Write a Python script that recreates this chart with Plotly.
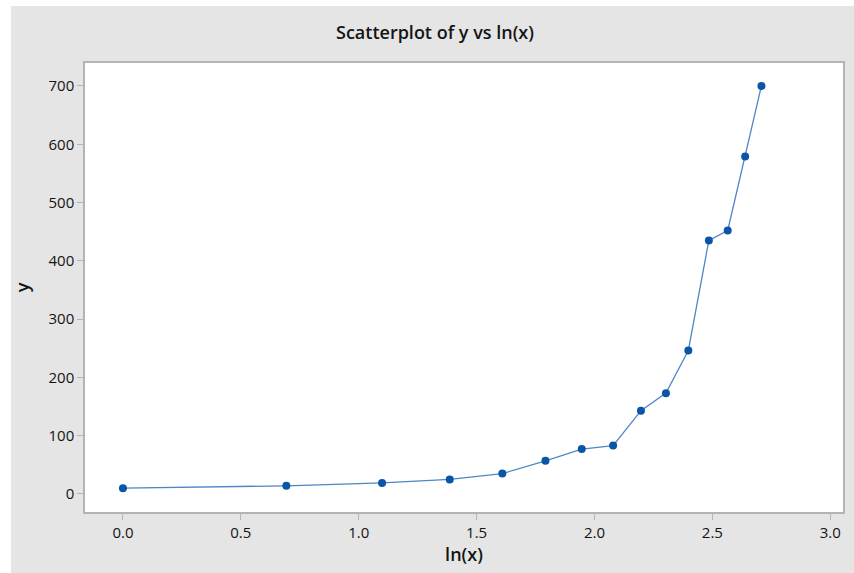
import plotly.graph_objects as go

# Data
ln_x = [0.000, 0.693, 1.099, 1.386, 1.609, 1.792, 1.946, 2.079, 2.197, 2.303,
        2.398, 2.485, 2.565, 2.639, 2.708]
y_vals = [10, 14, 19, 25, 35, 57, 77, 83, 143, 173, 246, 435, 452, 579, 700]

x_ticks = [0.0, 0.5, 1.0, 1.5, 2.0, 2.5, 3.0]
x_tick_text = ["0.0", "0.5", "1.0", "1.5", "2.0", "2.5", "3.0"]
y_ticks = [0, 100, 200, 300, 400, 500, 600, 700]

title_text = "Scatterplot of y vs ln(x)"
x_title = "ln(x)"
y_title = "y"

FONT = "Open Sans"
TXT = "#141414"
GRAY_BG = "#e5e5e5"
AXIS = "#b4b4b4"

fig = go.Figure()
fig.add_trace(go.Scatter(
    x=ln_x, y=y_vals, mode="lines+markers",
    line=dict(color="#4f86c6", width=1.3),
    marker=dict(color="#0a55a5", size=8, symbol="circle"),
    showlegend=False,
))

W, H = 854, 573
L, R, T, B = 85, 843, 63, 512
pw, ph = R - L, B - T

# thin white strips at left and top, like the reference
fig.add_shape(type="rect", xref="paper", yref="paper", layer="below",
              x0=-L / pw - 0.01, x1=(11 - L) / pw, y0=(B - H) / ph - 0.01, y1=B / ph + 0.01,
              fillcolor="white", line=dict(width=0))
fig.add_shape(type="rect", xref="paper", yref="paper", layer="below",
              x0=-L / pw - 0.01, x1=(W - L) / pw + 0.01, y0=(B - 6) / ph, y1=B / ph + 0.01,
              fillcolor="white", line=dict(width=0))

fig.update_layout(
    width=W, height=H,
    margin=dict(l=L, r=W - R, t=T, b=H - B, autoexpand=False),
    paper_bgcolor=GRAY_BG,
    plot_bgcolor="white",
    font=dict(family=FONT, color=TXT, size=15),
    title=dict(text=title_text, x=(435 - L) / pw, xref="paper", xanchor="center",
               y=1 - 33 / H, yref="container", yanchor="middle",
               font=dict(family=FONT, size=18, color=TXT, weight=600)),
)

fig.update_xaxes(
    range=[-0.161, 3.054], tickvals=x_ticks, ticktext=x_tick_text,
    showgrid=False, zeroline=False, automargin=False,
    showline=True, linecolor=AXIS, linewidth=1.5, mirror=True,
    ticks="outside", ticklen=6, tickcolor=AXIS, tickwidth=1,
    tickfont=dict(family=FONT, size=15, color=TXT),
    title=dict(text=x_title, font=dict(family=FONT, size=18, color=TXT, weight=600), standoff=4),
)
fig.update_yaxes(
    range=[-30.9, 739.4], tickvals=y_ticks,
    showgrid=False, zeroline=False, automargin=False,
    showline=True, linecolor=AXIS, linewidth=1.5, mirror=True,
    ticks="outside", ticklen=6, tickcolor=AXIS, tickwidth=1,
    tickfont=dict(family=FONT, size=15, color=TXT),
    title=dict(text=y_title, font=dict(family=FONT, size=18, color=TXT, weight=600), standoff=14),
)

fig.write_html("out.html", config={"displayModeBar": False},
               post_script="document.body.style.margin='0';document.body.style.overflow='hidden';")
